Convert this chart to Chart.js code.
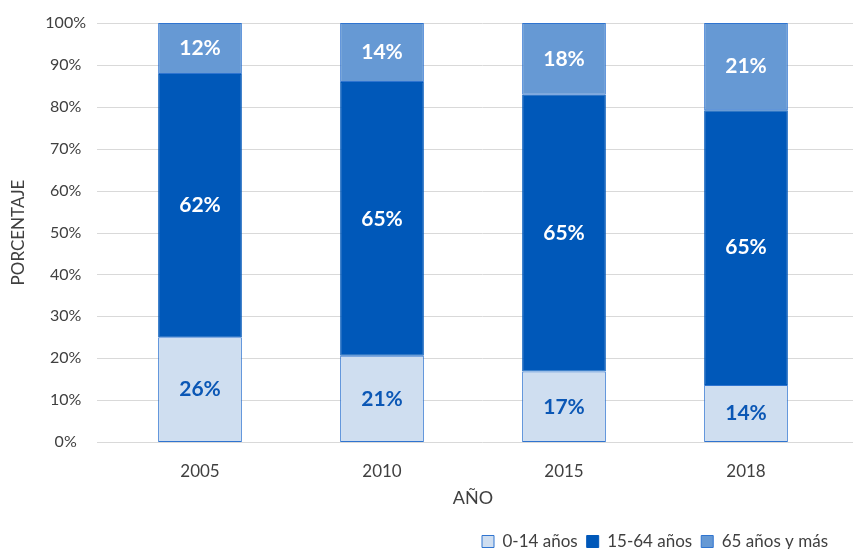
<!DOCTYPE html>
<html>
<head>
<meta charset="utf-8">
<script src="https://cdn.jsdelivr.net/npm/chart.js@4/dist/chart.umd.min.js"></script>
<style>
  html, body { margin: 0; padding: 0; overflow: hidden; background: #fff; }
  #wrap { width: 868px; height: 560px; position: relative; }
</style>
</head>
<body>
<div id="wrap"><canvas id="poblacionChart"></canvas></div>
<script>
// Años (categorías)
const anios = ['2005', '2010', '2015', '2018'];

const grupo0a14 = [25, 20.6, 16.8, 13.6];
const grupo15a64 = [62.8, 65.3, 66.1, 65.6];
const grupo65mas = [12.2, 14.1, 17.1, 20.8];

// Etiquetas que se muestran dentro de cada tramo
const etiq0a14 = [26, 21, 17, 14];
const etiq15a64 = [62, 65, 65, 65];
const etiq65mas = [12, 14, 18, 21];

// Marcas del eje Y
const marcasY = [0, 10, 20, 30, 40, 50, 60, 70, 80, 90, 100];

Chart.defaults.font.family = 'Lato';
Chart.defaults.color = '#404040';

// Líneas de cuadrícula horizontales más largas que el área del gráfico
const cuadricula = {
    id: 'cuadricula',
    beforeDatasetsDraw(chart) {
        const ctx = chart.ctx;
        const y = chart.scales.y;
        ctx.save();
        ctx.strokeStyle = '#d9d9d9';
        ctx.lineWidth = 1;
        marcasY.forEach(v => {
            const py = Math.round(y.getPixelForValue(v)) + 0.5;
            ctx.beginPath();
            ctx.moveTo(97, py);
            ctx.lineTo(chart.width, py);
            ctx.stroke();
        });
        ctx.restore();
    }
};

// Porcentajes dentro de las barras
const etiquetas = {
    id: 'etiquetas',
    afterDatasetsDraw(chart) {
        const ctx = chart.ctx;
        chart.data.datasets.forEach((ds, i) => {
            const meta = chart.getDatasetMeta(i);
            meta.data.forEach((bar, j) => {
                const p = bar.getProps(['x', 'y', 'base'], true);
                ctx.save();
                ctx.font = 'bold 21px Lato';
                ctx.fillStyle = ds.colorEtiqueta;
                ctx.textAlign = 'center';
                ctx.textBaseline = 'middle';
                ctx.fillText(ds.etiquetas[j] + '%', p.x, (p.y + p.base) / 2);
                ctx.restore();
            });
        });
    }
};

const canvas = document.getElementById('poblacionChart');
new Chart(canvas, {
    type: 'bar',
    data: {
        labels: anios,
        datasets: [{
            label: '0-14 años',
            data: grupo0a14,
            etiquetas: etiq0a14,
            colorEtiqueta: '#0b57b5',
            backgroundColor: '#cfdef0',
            borderColor: '#2f74d0',
            borderWidth: 1,
            borderSkipped: false
        }, {
            label: '15-64 años',
            data: grupo15a64,
            etiquetas: etiq15a64,
            colorEtiqueta: '#ffffff',
            backgroundColor: '#0058b9',
            borderColor: '#0058b9',
            borderWidth: 1,
            borderSkipped: false
        }, {
            label: '65 años y más',
            data: grupo65mas,
            etiquetas: etiq65mas,
            colorEtiqueta: '#ffffff',
            backgroundColor: '#6699d4',
            borderColor: '#2f74d0',
            borderWidth: 1,
            borderSkipped: false
        }]
    },
    options: {
        responsive: true,
        maintainAspectRatio: false,
        animation: false,
        barPercentage: 0.46,
        categoryPercentage: 1,
        layout: {
            padding: { left: 0, right: 31, top: 23, bottom: 0 }
        },
        plugins: {
            legend: {
                position: 'bottom',
                align: 'end',
                labels: {
                    boxWidth: 12,
                    boxHeight: 12,
                    padding: 9,
                    font: { size: 17 },
                    color: '#404040'
                }
            },
            tooltip: { enabled: false }
        },
        scales: {
            x: {
                stacked: true,
                grid: { display: false },
                border: { display: false },
                ticks: { font: { size: 17 }, padding: 11, color: '#404040' },
                title: {
                    display: true,
                    text: 'AÑO',
                    font: { size: 18 },
                    color: '#404040',
                    padding: { top: 4, bottom: 15 }
                },
                afterFit(s) { s.height = 82; }
            },
            y: {
                stacked: true,
                min: 0,
                max: 100,
                // ticks hidden, tickLength only pushes the labels left
                grid: { display: false, drawTicks: true, tickLength: 23 },
                border: { display: false },
                ticks: {
                    stepSize: 10,
                    crossAlign: 'center',
                    padding: 0,
                    font: { size: 16 },
                    color: '#404040',
                    callback: v => v + '%'
                },
                title: {
                    display: true,
                    text: 'PORCENTAJE',
                    font: { size: 17 },
                    color: '#404040',
                    padding: { top: 8, bottom: 4 }
                },
                afterFit(s) { s.width = 109; }
            }
        }
    },
    plugins: [cuadricula, etiquetas]
});
</script>
</body>
</html>
